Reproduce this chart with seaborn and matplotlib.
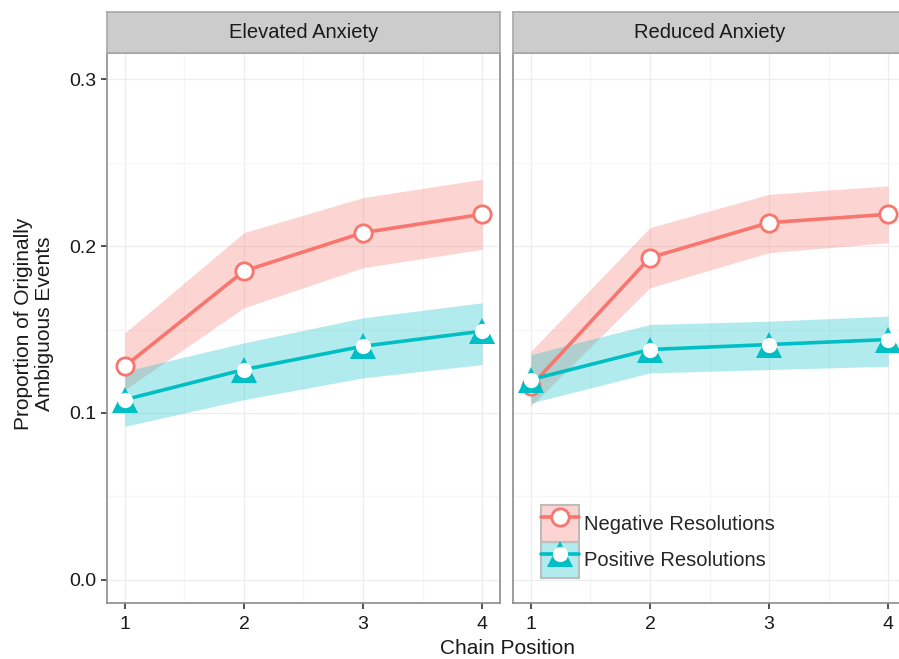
import numpy as np
import pandas as pd
import matplotlib
matplotlib.use("Agg")
import matplotlib.pyplot as plt
import seaborn as sns
from matplotlib.patches import Patch
from matplotlib.lines import Line2D
from matplotlib.legend_handler import HandlerTuple

sns.set_theme(style="white")
plt.rcParams['font.family'] = ['Liberation Sans', 'DejaVu Sans']

# Data
panels = ["Elevated Anxiety", "Reduced Anxiety"]
series = ["Negative Resolutions", "Positive Resolutions"]
positions = [1, 2, 3, 4]

elev_neg = [0.128, 0.185, 0.208, 0.219]
elev_neg_lo = [0.114, 0.163, 0.187, 0.198]
elev_neg_hi = [0.148, 0.208, 0.229, 0.240]
elev_pos = [0.108, 0.126, 0.140, 0.149]
elev_pos_lo = [0.092, 0.108, 0.121, 0.129]
elev_pos_hi = [0.125, 0.142, 0.157, 0.166]

red_neg = [0.116, 0.193, 0.214, 0.219]
red_neg_lo = [0.104, 0.175, 0.196, 0.202]
red_neg_hi = [0.137, 0.211, 0.231, 0.236]
red_pos = [0.120, 0.138, 0.141, 0.144]
red_pos_lo = [0.106, 0.124, 0.126, 0.128]
red_pos_hi = [0.135, 0.153, 0.155, 0.158]

rows = []
for panel, vals in zip(panels, [
        [(elev_neg, elev_neg_lo, elev_neg_hi), (elev_pos, elev_pos_lo, elev_pos_hi)],
        [(red_neg, red_neg_lo, red_neg_hi), (red_pos, red_pos_lo, red_pos_hi)]]):
    for s, (m, lo, hi) in zip(series, vals):
        for p, a, b, c in zip(positions, m, lo, hi):
            rows.append(dict(panel=panel, series=s, pos=p, mean=a, lo=b, hi=c))
df = pd.DataFrame(rows)

colors = {"Negative Resolutions": "#F8766D", "Positive Resolutions": "#00BFC4"}

fig = plt.figure(figsize=(8.99, 6.59), dpi=100)
W, H = 899, 659
ax_w = 393 / W
ax_b = (H - 603) / H
ax_h = 550 / H
strip_b = (H - 53) / H
strip_h = 41 / H
lefts = [107 / W, 513 / W]

for i, panel in enumerate(panels):
    ax = fig.add_axes([lefts[i], ax_b, ax_w, ax_h])
    sub = df[df.panel == panel]

    for s in series:
        d = sub[sub.series == s]
        ax.fill_between(d.pos, d.lo, d.hi, color=colors[s], alpha=0.3,
                        linewidth=0, zorder=2)

    sns.lineplot(data=sub, x="pos", y="mean", hue="series", palette=colors,
                 linewidth=2.6, ax=ax, legend=False, zorder=3)

    neg = sub[sub.series == series[0]]
    pos = sub[sub.series == series[1]]
    ax.plot(neg.pos, neg["mean"], linestyle="none", marker="o", ms=12.5,
            mfc="white", mec=colors[series[0]], mew=2, zorder=4)
    ax.plot(pos.pos, pos["mean"], linestyle="none", marker="^", ms=19,
            color=colors[series[1]], mew=0, zorder=5)
    ax.plot(pos.pos, pos["mean"], linestyle="none", marker="o", ms=11,
            color="white", mew=0, zorder=6)

    ax.set_xlim(0.85, 4.15)
    ax.set_ylim(-0.0138, 0.3156)
    ax.set_xticks(positions)
    ax.set_xticks([1.5, 2.5, 3.5], minor=True)
    ax.set_yticks([0.0, 0.1, 0.2, 0.3])
    ax.set_yticks([0.05, 0.15, 0.25], minor=True)
    ax.grid(True, which="major", color="#EDEDED", linewidth=0.9)
    ax.grid(True, which="minor", color="#F6F6F6", linewidth=0.9)
    ax.set_axisbelow(True)
    ax.set_xlabel("")
    ax.set_ylabel("")
    for sp in ax.spines.values():
        sp.set_color("#8C8C8C")
        sp.set_linewidth(1.2)
    ax.tick_params(axis="both", which="major", length=4.5, width=1.2,
                   color="#333333", labelsize=14, labelcolor="#1A1A1A")
    ax.tick_params(axis="x", pad=5, bottom=True)
    ax.tick_params(axis="y", pad=3, left=True)
    ax.tick_params(which="minor", length=0)
    if i == 0:
        ax.set_yticklabels(["0.0", "0.1", "0.2", "0.3"])
    else:
        ax.set_yticklabels([])
        ax.tick_params(axis="y", left=False)

    st = fig.add_axes([lefts[i], strip_b, ax_w, strip_h])
    st.set_facecolor("#CCCCCC")
    st.set_xticks([])
    st.set_yticks([])
    for sp in st.spines.values():
        sp.set_color("#A8A8A8")
        sp.set_linewidth(1.2)
    st.text(0.5, 0.5, panel, ha="center", va="center", fontsize=14.5,
            color="#1A1A1A", transform=st.transAxes)

    if i == 1:
        h_neg = (Patch(facecolor=colors[series[0]], alpha=0.3, edgecolor="none"),
                 Patch(facecolor="none", edgecolor="#BDBDBD", linewidth=1.5),
                 Line2D([], [], color=colors[series[0]], linewidth=2.6, marker="o",
                        ms=12.5, mfc="white", mec=colors[series[0]], mew=2))
        h_pos = (Patch(facecolor=colors[series[1]], alpha=0.3, edgecolor="none"),
                 Patch(facecolor="none", edgecolor="#BDBDBD", linewidth=1.5),
                 Line2D([], [], color=colors[series[1]], linewidth=2.6, marker="^",
                        ms=19, mew=0),
                 Line2D([], [], linestyle="none", marker="o", ms=11,
                        color="white", mew=0))
        ax.legend([h_neg, h_pos], series,
                  handler_map={tuple: HandlerTuple(ndivide=1, pad=0)},
                  loc="lower left", bbox_to_anchor=(28 / 393, 25 / 550),
                  frameon=False, fontsize=14.5, borderpad=0, borderaxespad=0,
                  handlelength=1.9, handleheight=2.4, labelspacing=0,
                  handletextpad=0.25)

fig.text(507 / W, 11 / H, "Chain Position", ha="center", va="center",
         fontsize=15, color="#1A1A1A")
fig.text(34 / W, 1 - 324 / H, "Proportion of Originally\nAmbiguous Events",
         ha="center", va="center", rotation=90, fontsize=15,
         color="#1A1A1A", linespacing=1.15)

fig.savefig("out.png", dpi=100)
